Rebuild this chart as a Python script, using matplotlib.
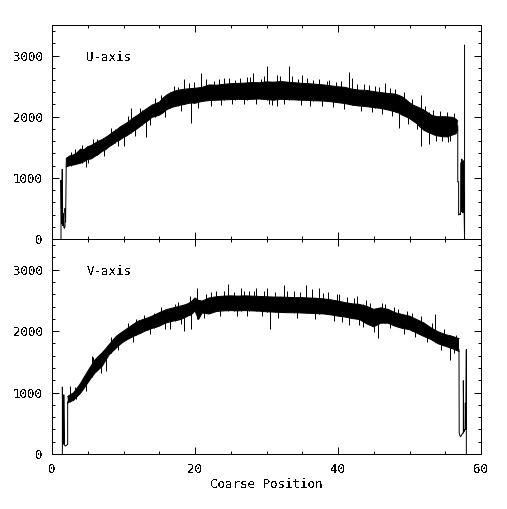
import numpy as np
import matplotlib
matplotlib.use('Agg')
import matplotlib.pyplot as plt
from matplotlib.ticker import MultipleLocator

plt.rcParams['font.family'] = ['DejaVu Sans Mono']
plt.rcParams['font.size'] = 9
plt.rcParams['text.antialiased'] = False

# U-axis: band of the noisy trace (lower / upper edge)
u_x = [2.0, 2.5, 3.0, 3.5, 4.0, 4.5, 5.0, 5.5, 6.0, 6.5, 7.0, 7.5, 8.0, 8.5, 9.0, 9.5,
       10.0, 10.5, 11.0, 11.5, 12.0, 12.5, 13.0, 13.5, 14.0, 14.5, 15.0, 15.5, 16.0, 16.5,
       17.0, 17.5, 18.0, 18.5, 19.0, 19.5, 20.0, 21.0, 22.0, 23.0, 24.0, 25.0, 26.0, 27.0,
       28.0, 29.0, 30.0, 31.0, 32.0, 33.0, 34.0, 35.0, 36.0, 37.0, 38.0, 39.0, 40.0, 41.0,
       42.0, 43.0, 44.0, 45.0, 46.0, 47.0, 48.0, 48.5, 49.0, 49.5, 50.0, 50.5, 51.0, 51.5,
       52.0, 52.5, 53.0, 53.5, 54.0, 54.5, 55.0, 55.5, 56.0, 56.5, 56.75]
u_lo = [1180, 1200, 1210, 1225, 1240, 1265, 1300, 1310, 1350, 1385, 1430, 1460, 1510, 1545, 1590, 1620,
        1660, 1690, 1730, 1770, 1810, 1855, 1900, 1940, 1990, 2005, 2025, 2060, 2110, 2140,
        2160, 2175, 2190, 2200, 2215, 2225, 2220, 2250, 2265, 2270, 2275, 2280, 2285, 2280,
        2285, 2290, 2280, 2270, 2285, 2280, 2275, 2270, 2265, 2260, 2255, 2245, 2230, 2215,
        2190, 2175, 2165, 2150, 2135, 2110, 2080, 2060, 2025, 2000, 1970, 1930, 1890, 1830,
        1780, 1750, 1725, 1700, 1685, 1675, 1670, 1680, 1700, 1720, 1780]
u_hi = [1320, 1360, 1375, 1410, 1470, 1460, 1510, 1530, 1565, 1600, 1625, 1660, 1700, 1745, 1780, 1830,
        1865, 1900, 1945, 1990, 2025, 2070, 2110, 2150, 2190, 2215, 2235, 2300, 2350, 2385,
        2410, 2430, 2440, 2450, 2455, 2460, 2465, 2480, 2520, 2515, 2530, 2540, 2545, 2550,
        2560, 2555, 2570, 2565, 2575, 2565, 2555, 2545, 2540, 2530, 2520, 2505, 2490, 2480,
        2450, 2435, 2430, 2410, 2395, 2380, 2370, 2350, 2325, 2280, 2230, 2190, 2165, 2140,
        2110, 2070, 2030, 2010, 2000, 2000, 2000, 1995, 1990, 1960, 1930]

# U-axis: single spikes (x, bottom, top)
u_spk_x = [2.6, 4.2, 5.1, 6.3, 8.8, 10.0, 11.1, 12.6, 13.2, 14.4, 16.5, 17.6, 18.5, 19.5, 19.9,
           20.9, 22.6, 24.1, 25.6, 27.3, 28.1, 29.2, 30.1, 30.4, 31.5, 33.1, 34.4, 35.0, 36.5,
           38.4, 39.7, 41.6, 42.0, 43.6, 45.2, 46.6, 48.0, 48.6, 51.6, 52.7, 53.3, 54.6, 55.2, 55.4]
u_spk_lo = [1200, 1250, 1240, 1370, 1570, 1525, 1740, 1860, 1665, 2000, 2140, 2180, 2200, 1900, 2220,
            2250, 2270, 2275, 2280, 2280, 2285, 2290, 2280, 2200, 2178, 2280, 2275, 2270, 2265,
            2250, 2240, 2210, 2190, 2170, 2150, 2130, 2080, 1808, 1525, 1547, 1720, 1600, 1670, 1590]
u_spk_hi = [1420, 1530, 1500, 1640, 1800, 1860, 2140, 2110, 2100, 2300, 2400, 2480, 2625, 2450, 2560,
            2710, 2590, 2640, 2600, 2645, 2720, 2620, 2827, 2560, 2685, 2827, 2620, 2680, 2600,
            2590, 2570, 2734, 2640, 2530, 2500, 2551, 2450, 2360, 2353, 2070, 2110, 2000, 2085, 2000]

# U-axis: small ragged edges of the band
u_fz_x = [3.2, 4.7, 5.8, 7.3, 8.3, 9.3, 10.6, 11.6, 12.3, 13.7, 15.2, 15.8, 17.1, 18.0, 19.2,
          20.4, 21.5, 22.2, 23.3, 23.7, 24.7, 25.2, 26.3, 26.8, 27.7, 28.6, 29.6, 30.7, 31.9,
          32.5, 33.6, 34.8, 35.6, 36.1, 37.3, 37.8, 38.8, 39.3, 40.4, 40.9, 42.7, 43.2, 44.3,
          44.8, 45.7, 46.2, 47.3, 47.6, 49.2, 49.8, 50.4, 51.1, 52.2, 53.7, 54.2, 55.7, 56.2]
u_fz_lo = [1300, 1180, 1440, 1360, 1630, 1520, 1800, 1690, 1940, 1870, 2150, 2000, 2290, 2100, 2340,
           2150, 2380, 2180, 2400, 2190, 2400, 2200, 2410, 2200, 2420, 2210, 2420, 2190, 2430,
           2200, 2420, 2190, 2410, 2180, 2400, 2170, 2380, 2160, 2360, 2130, 2310, 2090, 2300,
           2070, 2270, 2050, 2250, 2010, 2170, 1880, 2060, 1800, 1950, 1600, 1840, 1600, 1850]
u_fz_hi = [1470, 1380, 1640, 1540, 1810, 1700, 2010, 1890, 2150, 2060, 2360, 2210, 2510, 2310, 2550,
           2350, 2610, 2390, 2620, 2400, 2630, 2410, 2640, 2410, 2650, 2420, 2660, 2420, 2670,
           2430, 2660, 2410, 2640, 2400, 2620, 2390, 2600, 2380, 2580, 2350, 2530, 2300, 2520,
           2280, 2490, 2260, 2470, 2230, 2410, 2100, 2290, 2030, 2180, 1850, 2090, 1840, 2060]

# U-axis: trace at both ends
u_left_x = [1.26, 1.26, 1.33, 1.43, 1.43, 1.50, 1.58, 1.66, 1.74, 1.82, 1.82, 1.90, 2.0]
u_left_y = [0, 964, 250, 280, 1139, 220, 420, 190, 175, 200, 501, 280, 1300]
u_right_x = [56.75, 56.75, 56.87, 56.87, 57.0, 57.15, 57.22, 57.27, 57.32, 57.37, 57.42,
             57.47, 57.52, 57.58, 57.64, 57.70, 57.70]
u_right_y = [1850, 936, 936, 392, 410, 400, 1250, 450, 1307, 460, 1200, 430, 1280, 440,
             430, 0, 3170]

# V-axis: band
v_x = [2.2, 2.5, 3.0, 3.5, 4.0, 4.5, 5.0, 5.5, 6.0, 6.5, 7.0, 7.5, 8.0, 8.5, 9.0, 9.5,
       10.0, 10.5, 11.0, 11.5, 12.0, 12.5, 13.0, 13.5, 14.0, 14.5, 15.0, 15.5, 16.0, 16.5,
       17.0, 17.5, 18.0, 18.5, 19.0, 19.5, 20.0, 20.5, 21.0, 22.0, 23.0, 24.0, 25.0, 26.0,
       27.0, 28.0, 29.0, 30.0, 31.0, 32.0, 33.0, 34.0, 35.0, 36.0, 37.0, 38.0, 39.0, 40.0,
       41.0, 42.0, 43.0, 44.0, 45.0, 46.0, 47.0, 48.0, 49.0, 50.0, 51.0, 52.0, 53.0, 54.0,
       55.0, 56.0, 56.5, 56.92]
v_lo = [828, 850, 871, 930, 990, 1070, 1155, 1240, 1315, 1370, 1425, 1520, 1615, 1670, 1725, 1780,
        1825, 1860, 1890, 1920, 1945, 1970, 2000, 2020, 2045, 2060, 2080, 2110, 2135, 2150,
        2165, 2175, 2190, 2215, 2245, 2270, 2330, 2190, 2295, 2280, 2320, 2330, 2335, 2330,
        2335, 2330, 2325, 2315, 2310, 2305, 2300, 2300, 2295, 2290, 2285, 2280, 2265, 2245,
        2230, 2205, 2190, 2120, 2070, 2130, 2130, 2080, 2045, 2025, 1970, 1915, 1865, 1795,
        1755, 1715, 1690, 1670]
v_hi = [936, 960, 995, 1070, 1150, 1250, 1345, 1440, 1530, 1590, 1645, 1710, 1780, 1850, 1915, 1960,
        2000, 2040, 2080, 2120, 2160, 2180, 2200, 2220, 2245, 2270, 2300, 2325, 2350, 2365,
        2380, 2395, 2410, 2425, 2445, 2480, 2540, 2500, 2490, 2540, 2560, 2570, 2575, 2570,
        2575, 2570, 2565, 2560, 2555, 2555, 2550, 2545, 2545, 2540, 2535, 2525, 2510, 2490,
        2465, 2445, 2435, 2405, 2355, 2380, 2355, 2300, 2270, 2245, 2190, 2135, 2055, 1990,
        1945, 1915, 1895, 1880]

# V-axis: single spikes
v_spk_x = [2.5, 3.3, 5.6, 7.5, 8.2, 11.8, 14.3, 16.5, 17.2, 18.5, 19.3, 19.5, 20.3, 21.5, 23.0,
           24.6, 25.5, 26.5, 27.6, 28.6, 30.1, 30.5, 31.2, 32.4, 33.8, 35.5, 36.3, 37.3, 38.6,
           40.1, 41.2, 41.6, 42.6, 43.5, 44.5, 45.6, 46.6, 48.4, 50.3, 53.6, 55.6, 56.5]
v_spk_lo = [850, 900, 1250, 1345, 1640, 1930, 2055, 2027, 2165, 2000, 2255, 2027, 2200, 2290, 2320,
            2330, 2335, 2330, 2330, 2330, 2315, 2037, 2310, 2305, 2300, 2295, 2290, 2285, 2275,
            2245, 2230, 2107, 2200, 2064, 2100, 1890, 2130, 2060, 2010, 1830, 1536, 1690]
v_spk_hi = [1100, 1060, 1590, 1700, 1840, 2200, 2300, 2365, 2440, 2425, 2570, 2480, 2708, 2600, 2650,
            2762, 2640, 2707, 2650, 2707, 2707, 2560, 2640, 2745, 2660, 2745, 2680, 2707, 2640,
            2598, 2560, 2465, 2571, 2435, 2460, 2370, 2435, 2360, 2300, 2271, 1945, 1945]

# V-axis: small ragged edges of the band
v_fz_x = [3.2, 4.7, 5.8, 6.8, 8.3, 9.3, 10.6, 11.3, 12.8, 13.7, 15.2, 15.8, 17.6, 18.1, 21.2,
          22.3, 23.5, 24.1, 25.9, 26.9, 27.3, 28.2, 29.4, 29.7, 31.6, 32.9, 34.3, 34.7, 36.8,
          37.9, 39.4, 39.8, 40.6, 42.2, 43.0, 43.9, 45.1, 46.2, 47.3, 47.9, 49.2, 49.7, 50.8,
          51.6, 52.4, 53.1, 54.4, 54.8, 56.2]
v_fz_lo = [960, 1030, 1400, 1320, 1740, 1690, 1960, 1830, 2090, 1950, 2200, 2040, 2290, 2110, 2210,
           2420, 2240, 2450, 2250, 2450, 2250, 2450, 2240, 2440, 2220, 2430, 2210, 2420, 2200,
           2410, 2170, 2380, 2150, 2330, 2100, 2300, 1990, 2260, 2050, 2200, 1960, 2140, 1900,
           2060, 1830, 1960, 1700, 1870, 1640]
v_fz_hi = [1090, 1200, 1580, 1500, 1900, 1850, 2130, 2000, 2270, 2130, 2390, 2230, 2480, 2300, 2400,
           2640, 2440, 2660, 2450, 2660, 2450, 2650, 2440, 2650, 2430, 2650, 2420, 2640, 2410,
           2620, 2390, 2600, 2360, 2540, 2310, 2500, 2220, 2460, 2240, 2390, 2150, 2330, 2090,
           2240, 2020, 2130, 1900, 2040, 1800]

# V-axis: trace at both ends
v_left_x = [1.45, 1.45, 1.52, 1.58, 1.65, 1.65, 1.72, 1.85, 2.0, 2.12, 2.19, 2.19]
v_left_y = [0, 1090, 180, 160, 170, 964, 150, 130, 140, 150, 160, 850]
v_right_x = [56.92, 56.95, 57.05, 57.15, 57.25, 57.35, 57.45, 57.53, 57.53, 57.6, 57.7,
             57.81, 57.81, 57.88, 57.95, 57.95]
v_right_y = [1700, 338, 300, 283, 300, 320, 340, 340, 1193, 360, 392, 400, 828, 400,
             1699, 0]

fig = plt.figure(figsize=(5.07, 5.09), dpi=100)
ax1 = fig.add_axes([52 / 507, 1 - 239 / 509, 429 / 507, 214 / 509])
ax2 = fig.add_axes([52 / 507, 1 - 454 / 509, 429 / 507, 215 / 509])

panels = [
    (ax1, 'U-axis', u_x, u_lo, u_hi, u_spk_x, u_spk_lo, u_spk_hi, u_fz_x, u_fz_lo, u_fz_hi,
     u_left_x, u_left_y, u_right_x, u_right_y),
    (ax2, 'V-axis', v_x, v_lo, v_hi, v_spk_x, v_spk_lo, v_spk_hi, v_fz_x, v_fz_lo, v_fz_hi,
     v_left_x, v_left_y, v_right_x, v_right_y),
]

lw = 0.72  # one pixel at 100 dpi
for ax, name, x, lo, hi, sx, slo, shi, fx, flo, fhi, lx, ly, rx, ry in panels:
    ax.fill_between(x, lo, hi, facecolor='black', edgecolor='none', linewidth=0)
    ax.plot(x, lo, color='black', linewidth=lw)
    ax.plot(x, hi, color='black', linewidth=lw)
    ax.vlines(sx, slo, shi, colors='black', linewidth=lw)
    ax.vlines(fx, flo, fhi, colors='black', linewidth=lw)
    ax.plot(lx, ly, color='black', linewidth=lw)
    ax.plot(rx, ry, color='black', linewidth=lw)

    ax.set_xlim(0, 60)
    ax.set_ylim(0, 3500)
    ax.xaxis.set_major_locator(MultipleLocator(20))
    ax.xaxis.set_minor_locator(MultipleLocator(5))
    ax.yaxis.set_major_locator(MultipleLocator(1000))
    ax.yaxis.set_minor_locator(MultipleLocator(200))
    ax.tick_params(which='both', direction='in', top=True, right=True, width=lw,
                   labelsize=9, pad=6.5, colors='black')
    ax.tick_params(which='major', length=5)
    ax.tick_params(which='minor', length=2.5)
    for sp in ax.spines.values():
        sp.set_linewidth(lw)
    ax.text(4.8, 2970, name, ha='left', va='center', fontsize=9)

ax1.tick_params(labelbottom=False)
ax1.set_yticks([0, 1000, 2000, 3000])
ax2.set_yticks([0, 1000, 2000, 3000])

fig.text(266.5 / 507, 1 - 485 / 509, 'Coarse Position', ha='center', va='center', fontsize=9)

fig.savefig('out.png', dpi=100)
